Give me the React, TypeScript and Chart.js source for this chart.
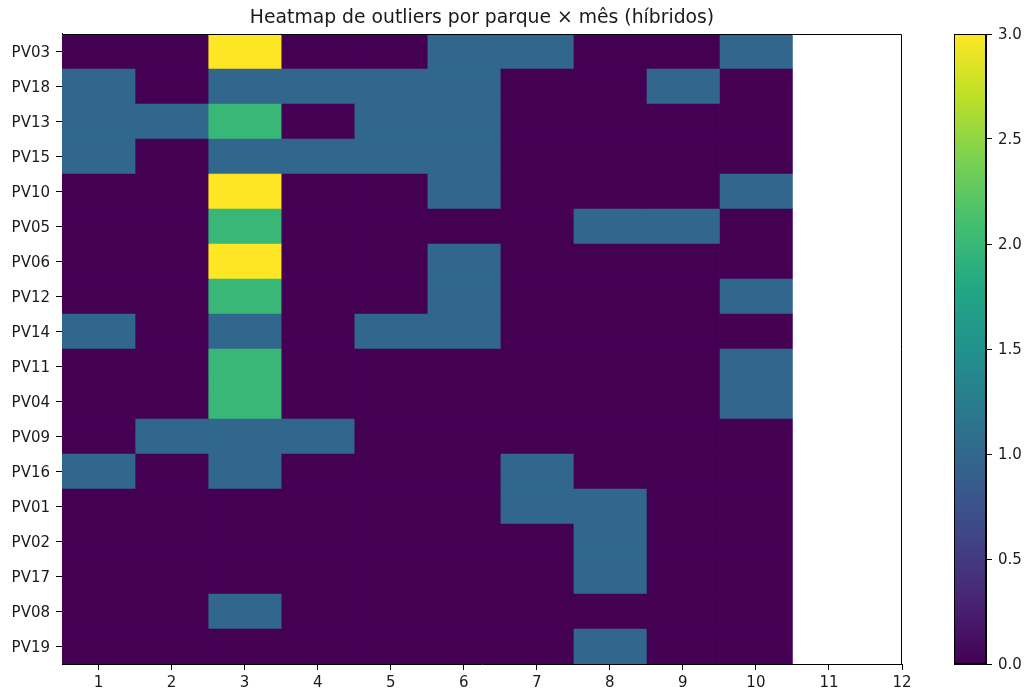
import React, { useEffect, useRef } from "react";
import { Chart, registerables } from "chart.js";

Chart.register(...registerables);

const parks = [
  "PV03", "PV18", "PV13", "PV15", "PV10", "PV05", "PV06", "PV12", "PV14",
  "PV11", "PV04", "PV09", "PV16", "PV01", "PV02", "PV17", "PV08", "PV19",
];
const months = [1, 2, 3, 4, 5, 6, 7, 8, 9, 10];
const monthTicks = [1, 2, 3, 4, 5, 6, 7, 8, 9, 10, 11, 12];
// outlier counts per park (rows) × month (columns 1..10)
const counts = [
  [0, 0, 3, 0, 0, 1, 1, 0, 0, 1],
  [1, 0, 1, 1, 1, 1, 0, 0, 1, 0],
  [1, 1, 2, 0, 1, 1, 0, 0, 0, 0],
  [1, 0, 1, 1, 1, 1, 0, 0, 0, 0],
  [0, 0, 3, 0, 0, 1, 0, 0, 0, 1],
  [0, 0, 2, 0, 0, 0, 0, 1, 1, 0],
  [0, 0, 3, 0, 0, 1, 0, 0, 0, 0],
  [0, 0, 2, 0, 0, 1, 0, 0, 0, 1],
  [1, 0, 1, 0, 1, 1, 0, 0, 0, 0],
  [0, 0, 2, 0, 0, 0, 0, 0, 0, 1],
  [0, 0, 2, 0, 0, 0, 0, 0, 0, 1],
  [0, 1, 1, 1, 0, 0, 0, 0, 0, 0],
  [1, 0, 1, 0, 0, 0, 1, 0, 0, 0],
  [0, 0, 0, 0, 0, 0, 1, 1, 0, 0],
  [0, 0, 0, 0, 0, 0, 0, 1, 0, 0],
  [0, 0, 0, 0, 0, 0, 0, 1, 0, 0],
  [0, 0, 1, 0, 0, 0, 0, 0, 0, 0],
  [0, 0, 0, 0, 0, 0, 0, 1, 0, 0],
];
const colorMin = 0;
const colorMax = 3;
const colorbarTicks = [0, 0.5, 1, 1.5, 2, 2.5, 3];

const VIRIDIS = [
  "#440154", "#482475", "#414487", "#355f8d", "#2a788e", "#21918c",
  "#22a884", "#44bf70", "#7ad151", "#bddf26", "#fde725",
];

function hexToRgb(h: string) {
  return [parseInt(h.slice(1, 3), 16), parseInt(h.slice(3, 5), 16), parseInt(h.slice(5, 7), 16)];
}

function viridis(t: number) {
  const x = Math.max(0, Math.min(1, t)) * (VIRIDIS.length - 1);
  const i = Math.min(Math.floor(x), VIRIDIS.length - 2);
  const f = x - i;
  const a = hexToRgb(VIRIDIS[i]);
  const b = hexToRgb(VIRIDIS[i + 1]);
  const c = a.map((v, k) => Math.round(v + (b[k] - v) * f));
  return `rgb(${c[0]},${c[1]},${c[2]})`;
}

const FONT = "'DejaVu Sans', sans-serif";
const TICK_FONT = { family: FONT, size: 15 };
const TEXT = "#1a1a1a";

// draws the top and right spines (left/bottom come from the axis borders)
const frame = {
  id: "frame",
  afterDatasetsDraw(chart: any) {
    const { ctx, chartArea: a } = chart;
    const l = Math.round(a.left);
    const r = Math.round(a.right);
    const t = Math.round(a.top);
    const b = Math.round(a.bottom);
    ctx.save();
    ctx.strokeStyle = "#000";
    ctx.lineWidth = 1;
    ctx.beginPath();
    ctx.moveTo(l, t + 0.5);
    ctx.lineTo(r - 0.5, t + 0.5);
    ctx.lineTo(r - 0.5, b);
    ctx.stroke();
    ctx.restore();
  },
};

export default function App() {
  const mainRef = useRef<HTMLCanvasElement>(null);
  const barRef = useRef<HTMLCanvasElement>(null);

  useEffect(() => {
    document.body.style.margin = "0";
    const datasets = months.map((m, j) => ({
      label: String(m),
      data: parks.map(() => [m - 0.5, m + 0.5]),
      backgroundColor: parks.map((_, r) => viridis((counts[r][j] - colorMin) / (colorMax - colorMin))),
      borderWidth: 0,
      barPercentage: 1,
      categoryPercentage: 1,
      grouped: false,
    }));

    const main = new Chart(mainRef.current!, {
      type: "bar",
      data: { labels: parks, datasets: datasets as any },
      options: {
        responsive: false,
        animation: false,
        indexAxis: "y",
        layout: { padding: { left: 0, right: 123, top: 0, bottom: 0 } },
        plugins: {
          legend: { display: false },
          tooltip: { enabled: false },
          title: {
            display: true,
            text: "Heatmap de outliers por parque × mês (híbridos)",
            fullSize: false,
            color: TEXT,
            font: { family: FONT, size: 18.8, weight: "normal", lineHeight: 1.2 },
            padding: { top: 7, bottom: 4.4 },
          },
        },
        scales: {
          x: {
            type: "linear",
            min: 0.5,
            max: 12,
            afterBuildTicks: (s: any) => {
              s.ticks = monthTicks.map((v) => ({ value: v }));
            },
            afterFit: (s: any) => {
              s.height = 26;
            },
            ticks: { color: TEXT, font: TICK_FONT, padding: 4, maxRotation: 0, autoSkip: false },
            grid: { display: true, drawOnChartArea: false, drawTicks: true, tickLength: 6, color: "#000" },
            border: { display: true, color: "#000", width: 1 },
          },
          y: {
            type: "category",
            afterFit: (s: any) => {
              s.width = 62;
            },
            ticks: { color: TEXT, font: TICK_FONT, padding: 6, labelOffset: 1.5, autoSkip: false },
            grid: { display: true, offset: false, drawOnChartArea: false, drawTicks: true, tickLength: 6, color: "#000" },
            border: { display: true, color: "#000", width: 1 },
          },
        },
      },
      plugins: [frame],
    } as any);

    const cbar = new Chart(barRef.current!, {
      type: "bar",
      data: {
        labels: ["c"],
        datasets: [
          {
            data: [[colorMin, colorMax]],
            backgroundColor: (ctx: any) => {
              const ch = ctx.chart;
              const y = ch.scales?.y;
              if (!y || !ch.chartArea) return VIRIDIS[0];
              const g = ch.ctx.createLinearGradient(0, y.getPixelForValue(colorMin), 0, y.getPixelForValue(colorMax));
              VIRIDIS.forEach((c, i) => g.addColorStop(i / (VIRIDIS.length - 1), c));
              return g;
            },
            borderWidth: 0,
            barPercentage: 1,
            categoryPercentage: 1,
          },
        ],
      },
      options: {
        responsive: false,
        animation: false,
        layout: { padding: { left: 14, right: 0, top: 34, bottom: 26 } },
        plugins: { legend: { display: false }, tooltip: { enabled: false } },
        scales: {
          x: {
            display: true,
            ticks: { display: false },
            grid: { display: false },
            border: { display: true, color: "#000", width: 1 },
            afterFit: (s: any) => {
              s.height = 0;
            },
          },
          y: {
            type: "linear",
            position: "right",
            min: colorMin,
            max: colorMax,
            afterBuildTicks: (s: any) => {
              s.ticks = colorbarTicks.map((v) => ({ value: v }));
            },
            afterFit: (s: any) => {
              s.width = 39;
            },
            ticks: {
              color: TEXT,
              font: TICK_FONT,
              padding: 6,
              labelOffset: 1.5,
              callback: (v: any) => Number(v).toFixed(1),
            },
            grid: { display: true, drawOnChartArea: false, drawTicks: true, tickLength: 6, color: "#000" },
            border: { display: true, color: "#000", width: 1 },
          },
        },
      },
      plugins: [
        {
          id: "cbframe",
          afterDatasetsDraw(chart: any) {
            const { ctx, chartArea: a } = chart;
            ctx.save();
            ctx.strokeStyle = "#000";
            ctx.lineWidth = 1;
            ctx.strokeRect(Math.round(a.left) + 0.5, Math.round(a.top) + 0.5, Math.round(a.right - a.left) - 1, Math.round(a.bottom - a.top) - 1);
            ctx.restore();
          },
        },
      ],
    } as any);

    return () => {
      main.destroy();
      cbar.destroy();
    };
  }, []);

  return (
    <div style={{ position: "relative", width: 1025, height: 690, background: "#fff" }}>
      <canvas ref={mainRef} width={1025} height={690} style={{ position: "absolute", left: 0, top: 0 }} />
      <canvas ref={barRef} width={85} height={690} style={{ position: "absolute", left: 940, top: 0 }} />
    </div>
  );
}
